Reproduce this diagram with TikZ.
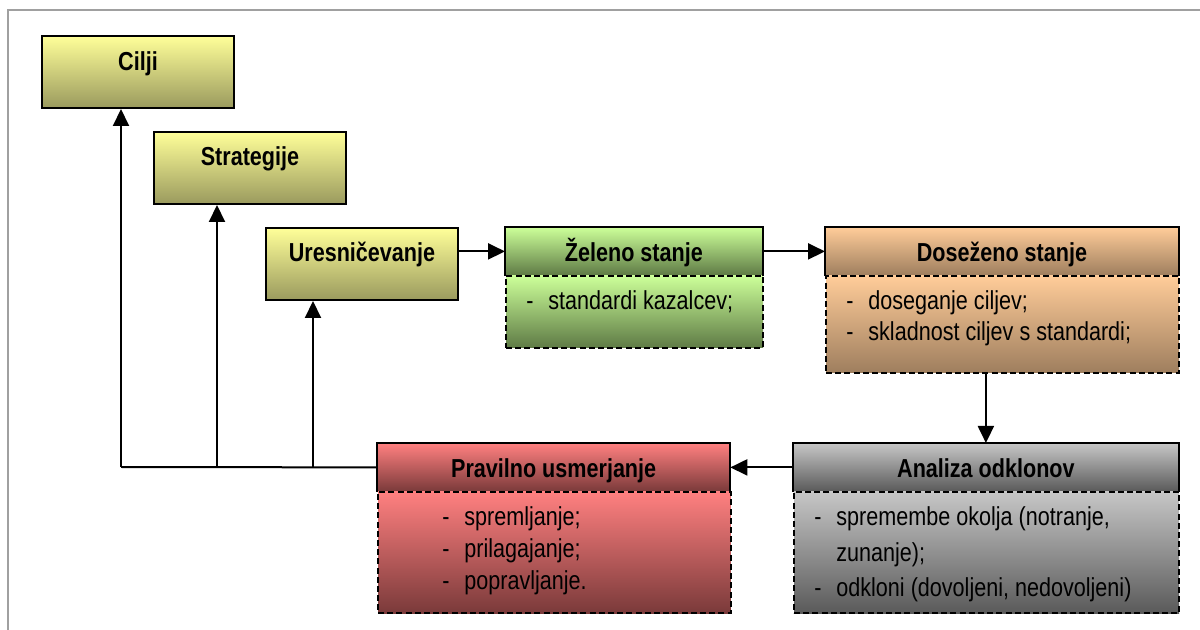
\documentclass[tikz,border=0pt]{standalone}
\usepackage{fontspec}
\setmainfont{Liberation Sans}[FakeStretch=0.83]
\usetikzlibrary{arrows.meta,calc}

% fill gradients (light top, dark bottom)
\definecolor{ylwT}{HTML}{FFFF99}\definecolor{ylwB}{HTML}{9A9A5E}
\definecolor{grnT}{HTML}{CCFF99}\definecolor{grnB}{HTML}{5E7A45}
\definecolor{orgT}{HTML}{FFCC99}\definecolor{orgB}{HTML}{9E7E5E}
\definecolor{redT}{HTML}{FF8080}\definecolor{redB}{HTML}{7A3A3A}
\definecolor{gryT}{HTML}{C6C6C6}\definecolor{gryB}{HTML}{5A5A5A}
\definecolor{framegray}{HTML}{A0A0A0}

\newcommand\hdfont{\fontsize{13}{15}\selectfont\bfseries}
\newcommand\itm[1]{\makebox[11pt][l]{-}#1}
\newcommand\cont[1]{\hspace*{11pt}#1}

\tikzset{
  outline/.style={line width=1pt},
  box/.style={outline, draw=black, anchor=north west, inner sep=0pt},
  headbox/.style={anchor=north west, inner sep=0pt},
  bodybox/.style={outline, draw=black, dash pattern=on 3pt off 1.6pt,
                  anchor=north west, inner sep=0pt},
  yellow/.style={top color=ylwT, bottom color=ylwB},
  green/.style={top color=grnT, bottom color=grnB},
  orange/.style={top color=orgT, bottom color=orgB},
  red/.style={top color=redT, bottom color=redB},
  gray/.style={top color=gryT, bottom color=gryB},
  title/.style={anchor=base, inner sep=0pt, font=\hdfont},
  items/.style={anchor=base west, inner sep=0pt},
  conn/.style={outline, -{Triangle[length=8.5pt,width=8pt]}},
}

\begin{document}
\begin{tikzpicture}[x=0.5pt,y=-0.5pt]
\useasboundingbox (0,0) rectangle (1200,630);

% page frame
\draw[framegray, line width=1pt] (8,630) -- (8,10) -- (1210,10);

% stacked planning boxes
\node[box, yellow, minimum width=96pt, minimum height=36pt] (cilji) at (41,35) {};
\node[box, yellow, minimum width=96pt, minimum height=36pt] (strat) at (153,131) {};
\node[box, yellow, minimum width=96pt, minimum height=36pt] (uresn) at (265,227) {};
\node[title] (cilji-t) at ($(cilji.north)+(0,36)$) {Cilji};
\node[title] (strat-t) at ($(strat.north)+(0,35)$) {Strategije};
\node[title] (uresn-t) at ($(uresn.north)+(0,35)$) {Uresničevanje};

% header + body boxes
\node[headbox, green, minimum width=128.5pt, minimum height=24pt] (zel-h) at (505,227) {};
\node[bodybox, green, minimum width=128.5pt, minimum height=36pt] (zel-b) at (505,275) {};
\draw[outline] (zel-h.south west) -- (zel-h.north west) -- (zel-h.north east) -- (zel-h.south east);

\node[headbox, orange, minimum width=176.5pt, minimum height=24pt] (dos-h) at (825,227) {};
\node[bodybox, orange, minimum width=176.5pt, minimum height=48.5pt] (dos-b) at (825,275) {};
\draw[outline] (dos-h.south west) -- (dos-h.north west) -- (dos-h.north east) -- (dos-h.south east);

\node[headbox, red, minimum width=176.25pt, minimum height=24pt] (prav-h) at (377,443) {};
\node[bodybox, red, minimum width=176.25pt, minimum height=60.5pt] (prav-b) at (377,491) {};
\draw[outline] (prav-h.south west) -- (prav-h.north west) -- (prav-h.north east) -- (prav-h.south east);

\node[headbox, gray, minimum width=192.5pt, minimum height=24pt] (ana-h) at (793,443) {};
\node[bodybox, gray, minimum width=192.5pt, minimum height=60.5pt] (ana-b) at (793,491) {};
\draw[outline] (ana-h.south west) -- (ana-h.north west) -- (ana-h.north east) -- (ana-h.south east);

% titles
\node[title] (zel-t)  at ($(zel-h.north)+(0,34.5)$)  {Želeno stanje};
\node[title] (dos-t)  at ($(dos-h.north)+(0,34.5)$)  {Doseženo stanje};
\node[title] (prav-t) at ($(prav-h.north)+(0,34.5)$) {Pravilno usmerjanje};
\node[title] (ana-t)  at ($(ana-h.north)+(0,34.5)$)  {Analiza odklonov};

% item lists
\node[items] (zel-l) at (526,310) {\fontsize{13}{15.8}\selectfont
  \begin{tabular}[t]{@{}l@{}}\itm{standardi kazalcev;}\end{tabular}};
\node[items] (dos-l) at (846,310) {\fontsize{13}{15.2}\selectfont
  \begin{tabular}[t]{@{}l@{}}\itm{doseganje ciljev;}\\ \itm{skladnost ciljev s standardi;}\end{tabular}};
\node[items] (prav-l) at (442,526) {\fontsize{13}{15.85}\selectfont
  \begin{tabular}[t]{@{}l@{}}\itm{spremljanje;}\\ \itm{prilagajanje;}\\ \itm{popravljanje.}\end{tabular}};
\node[items] (ana-l) at (814,526) {\fontsize{13}{17.6}\selectfont
  \begin{tabular}[t]{@{}l@{}}\itm{spremembe okolja (notranje,}\\ \cont{zunanje);}\\ \itm{odkloni (dovoljeni, nedovoljeni)}\end{tabular}};

% forward flow
\draw[conn] (uresn.east |- zel-h.west) -- (zel-h.west);
\draw[conn] (zel-h.east) -- (dos-h.west);
\draw[conn] (ana-h.north |- dos-b.south) -- (ana-h.north);
\draw[conn] (ana-h.west) -- (prav-h.east);

% feedback to goals, strategies and implementation
\coordinate (fb-c) at (121,467);
\coordinate (fb-s) at (217,467);
\coordinate (fb-u) at (313,467);
\draw[outline] (prav-h.west) -- (fb-c);
\draw[conn] (fb-c) -- (fb-c |- cilji.south);
\draw[conn] (fb-s) -- (fb-s |- strat.south);
\draw[conn] (fb-u) -- (fb-u |- uresn.south);
\end{tikzpicture}
\end{document}
